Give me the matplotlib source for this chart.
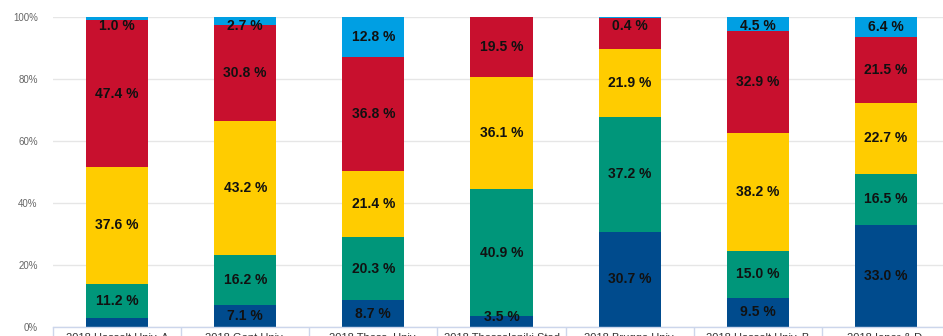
import matplotlib
matplotlib.use("Agg")
import matplotlib.pyplot as plt
import numpy as np

plt.rcParams['font.family'] = ['Liberation Sans', 'DejaVu Sans']

categories = [
    "2018 Hasselt Univ. A",
    "2018 Gent Univ.",
    "2018 Thess. Univ.",
    "2018 Thessaloniki Stad",
    "2018 Brugge Univ.",
    "2018 Hasselt Univ. B",
    "2018 Ieper & D.",
]
# stacked from bottom to top
s_darkblue = [2.8, 7.1, 8.7, 3.5, 30.7, 9.5, 33.0]
s_green = [11.2, 16.2, 20.3, 40.9, 37.2, 15.0, 16.5]
s_yellow = [37.6, 43.2, 21.4, 36.1, 21.9, 38.2, 22.7]
s_red = [47.4, 30.8, 36.8, 19.5, 9.8, 32.9, 21.5]
s_lightblue = [1.0, 2.7, 12.8, 0.0, 0.4, 4.5, 6.4]

series = [s_darkblue, s_green, s_yellow, s_red, s_lightblue]
colors = ["#004b8d", "#00967a", "#ffcc00", "#c8102e", "#009fe3"]
yticks = [0, 20, 40, 60, 80, 100]
ytick_labels = ["0%", "20%", "40%", "60%", "80%", "100%"]

W, H = 943, 336
fig = plt.figure(figsize=(W / 100, H / 100), dpi=100)
left_px, right_px = 53, 950
top_px, bottom_px = 17, 327
ax = fig.add_axes([left_px / W, 1 - bottom_px / H,
                   (right_px - left_px) / W, (bottom_px - top_px) / H])

x = np.arange(len(categories))
bar_w = 0.484
bottom = np.zeros(len(categories))
for vals, c in zip(series, colors):
    v = np.array(vals)
    ax.bar(x, v, bottom=bottom, width=bar_w, color=c, edgecolor='none', zorder=2)
    bottom += v

# data labels: top-down with overlap hiding, clamped inside plot
lo, hi = 3.3, 97.0
min_gap = 6.2
for i in range(len(categories)):
    cum = np.cumsum([s[i] for s in series])
    starts = cum - np.array([s[i] for s in series])
    placed = []
    for k in reversed(range(len(series))):
        val = series[k][i]
        if val <= 0:
            continue
        yc = min(max((starts[k] + cum[k]) / 2, lo), hi)
        if any(abs(yc - p) < min_gap for p in placed):
            continue
        placed.append(yc)
        ax.text(x[i], yc, f"{val:.1f} %", ha='center', va='center',
                fontsize=10, fontweight='bold', color='#111111', zorder=3)

ax.set_xlim(-0.5, len(categories) - 0.5)
ax.set_ylim(0, 100)
ax.set_yticks(yticks)
ax.set_yticklabels(ytick_labels, color='#666666', fontsize=7)
ax.tick_params(axis='y', length=0, pad=11)
ax.grid(axis='y', color='#e6e6e6', linewidth=1, zorder=0)
ax.set_axisbelow(True)

ax.set_xticks(x)
ax.set_xticklabels(categories, fontsize=8, color='#333333')
ax.tick_params(axis='x', which='major', length=0, pad=4)
ax.set_xticks(np.arange(len(categories) + 1) - 0.5, minor=True)
ax.tick_params(axis='x', which='minor', length=10, width=1, color='#ccd6eb', direction='out')

for sp in ['top', 'right', 'left']:
    ax.spines[sp].set_visible(False)
ax.spines['bottom'].set_color('#ccd6eb')
ax.spines['bottom'].set_linewidth(1)

fig.savefig("out.png", dpi=100)
